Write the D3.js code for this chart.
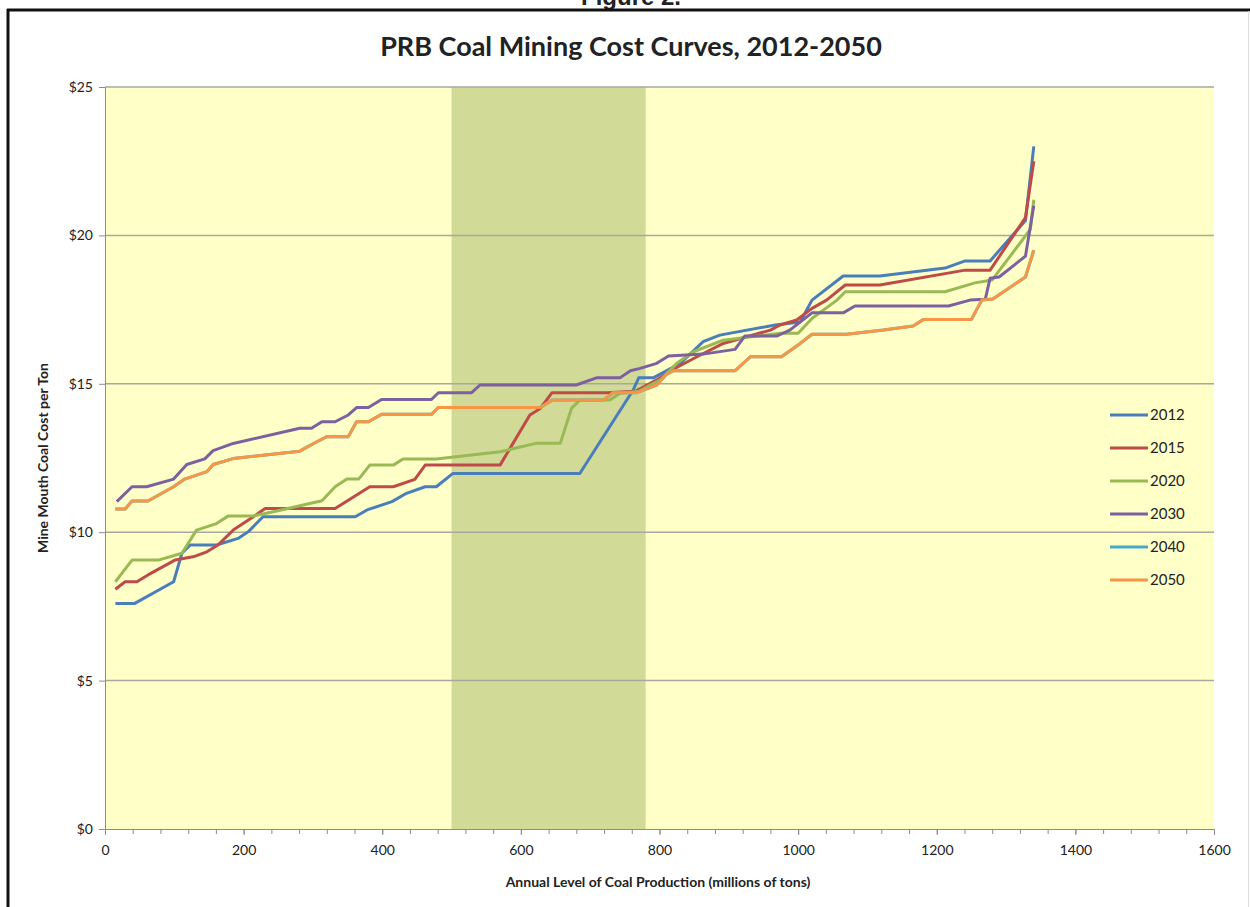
<!DOCTYPE html>
<html lang="en">
<head>
<meta charset="UTF-8">
<title>PRB Coal Mining Cost Curves</title>
<script src="https://d3js.org/d3.v7.min.js"></script>
<style>
  body { margin: 0; background: #fff; }
  text { font-family: Lato, "Open Sans", sans-serif; fill: #222; }
</style>
</head>
<body>
<svg width="1250" height="907"></svg>
<script>
// production (millions of tons) / cost ($ per ton) pairs
var s2012 = [[15,7.6],[43,7.6],[99,8.33],[111,9.29],[123,9.57],[161,9.57],[192,9.79],[207,10.02],[228,10.52],[361,10.52],[378,10.75],[414,11.03],[435,11.31],[462,11.53],[478,11.53],[502,11.98],[685,11.98],[762,14.79],[770,15.2],[791,15.2],[830,15.69],[863,16.42],[887,16.64],[967,16.98],[1003,17.08],[1020,17.82],[1065,18.63],[1118,18.63],[1212,18.9],[1241,19.14],[1277,19.14],[1328,20.5],[1340,23.0]];
var s2015 = [[15,8.08],[29,8.33],[46,8.33],[62,8.56],[101,9.06],[127,9.17],[147,9.34],[163,9.57],[185,10.07],[214,10.52],[231,10.8],[332,10.8],[382,11.53],[416,11.53],[447,11.78],[462,12.26],[570,12.26],[613,13.95],[628,14.17],[645,14.7],[724,14.7],[765,14.75],[796,15.13],[820,15.49],[854,15.91],[892,16.36],[960,16.81],[974,16.98],[998,17.15],[1020,17.54],[1041,17.82],[1068,18.33],[1118,18.33],[1241,18.83],[1277,18.83],[1328,20.6],[1340,22.5]];
var s2020 = [[15,8.33],[39,9.06],[77,9.06],[111,9.29],[132,10.07],[161,10.29],[178,10.55],[214,10.55],[243,10.69],[313,11.06],[332,11.53],[349,11.79],[366,11.79],[382,12.26],[416,12.26],[430,12.47],[478,12.47],[570,12.71],[623,13.0],[657,13.0],[673,14.17],[685,14.45],[728,14.45],[743,14.68],[770,14.75],[801,15.13],[825,15.69],[849,16.08],[892,16.47],[974,16.7],[1000,16.7],[1020,17.2],[1056,17.82],[1068,18.1],[1212,18.1],[1255,18.4],[1280,18.5],[1335,20.2],[1340,21.2]];
var s2030 = [[17,11.03],[39,11.53],[60,11.53],[99,11.79],[118,12.28],[144,12.47],[156,12.75],[185,12.99],[281,13.5],[298,13.5],[313,13.72],[332,13.72],[351,13.95],[363,14.2],[380,14.2],[399,14.47],[471,14.47],[481,14.7],[529,14.7],[541,14.96],[680,14.96],[709,15.2],[743,15.2],[758,15.44],[772,15.52],[796,15.69],[813,15.94],[863,16.0],[909,16.16],[923,16.61],[969,16.61],[988,16.81],[1020,17.39],[1065,17.39],[1082,17.62],[1217,17.62],[1248,17.82],[1270,17.85],[1277,18.56],[1290,18.6],[1328,19.3],[1340,21.0]];
var s2040 = [[15,10.78],[29,10.78],[39,11.05],[62,11.05],[99,11.53],[115,11.79],[147,12.04],[156,12.28],[185,12.48],[281,12.73],[301,12.99],[320,13.22],[351,13.22],[363,13.72],[380,13.72],[399,13.97],[471,13.97],[481,14.2],[628,14.2],[645,14.45],[719,14.45],[733,14.7],[767,14.7],[796,14.96],[810,15.32],[820,15.44],[909,15.44],[931,15.91],[976,15.91],[1003,16.36],[1020,16.67],[1070,16.67],[1123,16.81],[1166,16.95],[1181,17.17],[1250,17.17],[1265,17.82],[1281,17.86],[1328,18.6],[1340,19.5]];
var s2050 = [[15,10.78],[29,10.78],[39,11.05],[62,11.05],[99,11.53],[115,11.79],[147,12.04],[156,12.28],[185,12.48],[281,12.73],[301,12.99],[320,13.22],[351,13.22],[363,13.72],[380,13.72],[399,13.97],[471,13.97],[481,14.2],[628,14.2],[645,14.45],[719,14.45],[733,14.7],[767,14.7],[796,14.96],[810,15.32],[820,15.44],[909,15.44],[931,15.91],[976,15.91],[1003,16.36],[1020,16.67],[1070,16.67],[1123,16.81],[1166,16.95],[1181,17.17],[1250,17.17],[1265,17.82],[1281,17.86],[1328,18.6],[1340,19.5]];

var years = ["2012", "2015", "2020", "2030", "2040", "2050"];
var seriesData = [s2012, s2015, s2020, s2030, s2040, s2050];
var colors = ["#4a7ebb", "#be4b48", "#98b954", "#7d60a0", "#46aac5", "#f79646"];
var band = [500, 780];          // shaded production range
var xTicks = [0, 200, 400, 600, 800, 1000, 1200, 1400, 1600];
var yTicks = [0, 5, 10, 15, 20, 25];

var svg = d3.select("svg");
var plotLeft = 105, plotRight = 1214, plotTop = 87, plotBottom = 829;

var x = d3.scaleLinear().domain([0, 1600]).range([plotLeft, plotRight]);
var y = d3.scaleLinear().domain([0, 25]).range([plotBottom, plotTop]);

// frame of the figure
svg.append("text").attr("x", 631).attr("y", 5).attr("text-anchor", "middle")
    .style("font-family", "Arial, 'Liberation Sans'").style("font-weight", "bold")
    .style("font-size", "24px").text("Figure 2.");
svg.append("line").attr("x1", 7).attr("x2", 1250).attr("y1", 10).attr("y2", 10)
    .attr("stroke", "#111").attr("stroke-width", 3);
svg.append("line").attr("x1", 8).attr("x2", 8).attr("y1", 9).attr("y2", 907)
    .attr("stroke", "#111").attr("stroke-width", 3);
svg.append("line").attr("x1", 1248.5).attr("x2", 1248.5).attr("y1", 11).attr("y2", 907)
    .attr("stroke", "#ddd").attr("stroke-width", 1);

svg.append("text").attr("x", 631).attr("y", 56).attr("text-anchor", "middle")
    .style("font-weight", "bold").style("font-size", "27px").text("PRB Coal Mining Cost Curves, 2012-2050");

// plot area
svg.append("rect").attr("x", plotLeft).attr("y", plotTop)
    .attr("width", plotRight - plotLeft).attr("height", plotBottom - plotTop).attr("fill", "#ffffc8");
svg.append("rect").attr("x", x(band[0])).attr("y", plotTop)
    .attr("width", x(band[1]) - x(band[0])).attr("height", plotBottom - plotTop).attr("fill", "#d1da97");

// grid
svg.append("g").selectAll("line").data(yTicks.slice(1)).enter().append("line")
    .attr("x1", plotLeft).attr("x2", plotRight)
    .attr("y1", function (d) { return y(d); }).attr("y2", function (d) { return y(d); })
    .attr("stroke", "#a8a8a0").attr("stroke-width", 1.5);

// y axis
var yAxis = svg.append("g").attr("transform", "translate(" + plotLeft + ",0)")
    .call(d3.axisLeft(y).tickValues(yTicks).tickSize(6).tickPadding(6)
        .tickFormat(function (d) { return "$" + d; }));
yAxis.selectAll("text").style("font-size", "14px").style("font-family", "Lato, sans-serif").attr("fill", "#222");
yAxis.selectAll("line, path").attr("stroke", "#8c8c8c");

// x axis, minor ticks every 40
var xAxisMinor = svg.append("g").attr("transform", "translate(0," + plotBottom + ")")
    .call(d3.axisBottom(x).tickValues(d3.range(0, 1601, 40)).tickSize(5).tickFormat(""));
xAxisMinor.selectAll("line, path").attr("stroke", "#8c8c8c");
var xAxis = svg.append("g").attr("transform", "translate(0," + plotBottom + ")")
    .call(d3.axisBottom(x).tickValues(xTicks).tickSize(6).tickPadding(10).tickFormat(d3.format("d")));
xAxis.select("path").remove();
xAxis.selectAll("line").attr("stroke", "#8c8c8c");
xAxis.selectAll("text").style("font-size", "14px").style("font-family", "Lato, sans-serif").attr("fill", "#222");

// axis titles
svg.append("text").attr("x", 658).attr("y", 887).attr("text-anchor", "middle")
    .style("font-weight", "bold").style("font-size", "14px").text("Annual Level of Coal Production (millions of tons)");
svg.append("text").attr("transform", "translate(48,458) rotate(-90)").attr("text-anchor", "middle")
    .style("font-weight", "bold").style("font-size", "14px").text("Mine Mouth Coal Cost per Ton");

// series
var line = d3.line().x(function (d) { return x(d[0]); }).y(function (d) { return y(d[1]); });
svg.append("g").selectAll("path").data(seriesData).enter().append("path")
    .attr("d", line).attr("fill", "none")
    .attr("stroke", function (d, i) { return colors[i]; })
    .attr("stroke-width", 3).attr("stroke-linejoin", "round");

// legend
var legend = svg.append("g").selectAll("g").data(years).enter().append("g")
    .attr("transform", function (d, i) { return "translate(1110," + (415 + i * 33) + ")"; });
legend.append("line").attr("x1", 0).attr("x2", 38).attr("y1", 0).attr("y2", 0)
    .attr("stroke", function (d, i) { return colors[i]; }).attr("stroke-width", 3);
legend.append("text").attr("x", 40).attr("y", 5).style("font-size", "15px").text(function (d) { return d; });
</script>
</body>
</html>
